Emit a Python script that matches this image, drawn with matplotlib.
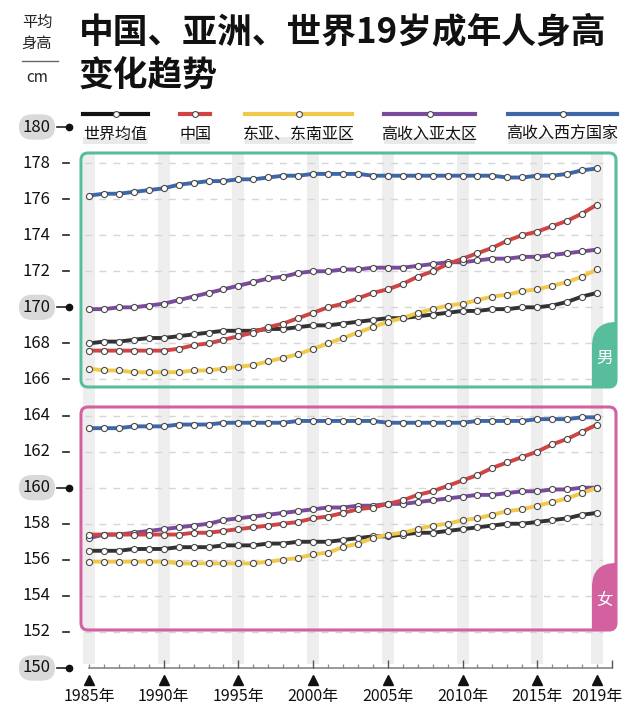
import matplotlib
matplotlib.use('Agg')
import matplotlib.pyplot as plt
from matplotlib.patches import FancyBboxPatch, PathPatch, Rectangle
from matplotlib.path import Path
from matplotlib.transforms import Affine2D, blended_transform_factory
from matplotlib.lines import Line2D

plt.rcParams['font.family'] = ['Noto Sans CJK SC', 'DejaVu Sans']

# ---------------- data ----------------
years = list(range(1985, 2020))
series_names = ['世界均值', '中国', '东亚、东南亚区', '高收入亚太区', '高收入西方国家']
series_colors = ['#333333', '#d04444', '#f0c84c', '#7a4b9c', '#3d67a9']

male_world = [168.0, 168.1, 168.1, 168.2, 168.3, 168.3, 168.4, 168.5, 168.6, 168.7, 168.7, 168.7,
              168.8, 168.8, 168.9, 169.0, 169.0, 169.1, 169.2, 169.3, 169.4, 169.4, 169.5, 169.6,
              169.7, 169.8, 169.8, 169.9, 169.9, 170.0, 170.0, 170.1, 170.3, 170.6, 170.8]
male_china = [167.6, 167.6, 167.6, 167.6, 167.6, 167.6, 167.7, 167.9, 168.0, 168.2, 168.4, 168.6,
              168.9, 169.1, 169.4, 169.7, 170.0, 170.2, 170.5, 170.8, 171.0, 171.3, 171.7, 172.0,
              172.4, 172.7, 173.0, 173.3, 173.7, 174.0, 174.2, 174.5, 174.8, 175.2, 175.7]
male_east_asia = [166.6, 166.5, 166.5, 166.4, 166.4, 166.4, 166.4, 166.5, 166.5, 166.6, 166.7, 166.8,
                  167.0, 167.2, 167.4, 167.7, 168.0, 168.3, 168.6, 168.9, 169.2, 169.4, 169.7, 169.9,
                  170.1, 170.2, 170.4, 170.6, 170.7, 170.9, 171.0, 171.2, 171.4, 171.7, 172.1]
male_hi_asia = [169.9, 169.9, 170.0, 170.0, 170.1, 170.2, 170.4, 170.6, 170.8, 171.0, 171.2, 171.4,
                171.6, 171.7, 171.9, 172.0, 172.0, 172.1, 172.1, 172.2, 172.2, 172.2, 172.3, 172.4,
                172.5, 172.5, 172.6, 172.7, 172.7, 172.8, 172.8, 172.9, 173.0, 173.1, 173.2]
male_hi_west = [176.2, 176.3, 176.3, 176.4, 176.5, 176.6, 176.8, 176.9, 177.0, 177.0, 177.1, 177.1,
                177.2, 177.3, 177.3, 177.4, 177.4, 177.4, 177.4, 177.3, 177.3, 177.3, 177.3, 177.3,
                177.3, 177.3, 177.3, 177.3, 177.2, 177.2, 177.3, 177.3, 177.4, 177.6, 177.7]

female_world = [156.5, 156.5, 156.5, 156.6, 156.6, 156.6, 156.7, 156.7, 156.7, 156.8, 156.8, 156.8,
                156.9, 156.9, 157.0, 157.0, 157.0, 157.1, 157.2, 157.3, 157.3, 157.4, 157.5, 157.5,
                157.6, 157.7, 157.8, 157.9, 158.0, 158.0, 158.1, 158.2, 158.3, 158.5, 158.6]
female_china = [157.4, 157.4, 157.4, 157.4, 157.4, 157.4, 157.4, 157.5, 157.5, 157.6, 157.7, 157.8,
                157.9, 158.0, 158.1, 158.3, 158.4, 158.6, 158.8, 158.9, 159.1, 159.3, 159.6, 159.8,
                160.1, 160.4, 160.7, 161.1, 161.4, 161.7, 162.0, 162.4, 162.7, 163.1, 163.5]
female_east_asia = [155.9, 155.9, 155.9, 155.9, 155.9, 155.9, 155.8, 155.8, 155.8, 155.8, 155.8, 155.8,
                    155.9, 156.0, 156.1, 156.3, 156.4, 156.7, 156.9, 157.2, 157.4, 157.5, 157.7, 157.9,
                    158.0, 158.2, 158.3, 158.5, 158.7, 158.8, 159.0, 159.2, 159.4, 159.7, 160.0]
female_hi_asia = [157.2, 157.4, 157.4, 157.5, 157.6, 157.7, 157.8, 157.9, 158.0, 158.2, 158.3, 158.4,
                  158.5, 158.6, 158.7, 158.8, 158.9, 158.9, 159.0, 159.0, 159.1, 159.1, 159.2, 159.3,
                  159.4, 159.5, 159.6, 159.6, 159.7, 159.8, 159.8, 159.9, 159.9, 160.0, 160.0]
female_hi_west = [163.3, 163.3, 163.3, 163.4, 163.4, 163.4, 163.5, 163.5, 163.5, 163.6, 163.6, 163.6,
                  163.6, 163.6, 163.7, 163.7, 163.7, 163.7, 163.7, 163.7, 163.6, 163.6, 163.6, 163.6,
                  163.6, 163.6, 163.7, 163.7, 163.7, 163.7, 163.8, 163.8, 163.8, 163.9, 163.9]

male_series = [male_world, male_china, male_east_asia, male_hi_asia, male_hi_west]
female_series = [female_world, female_china, female_east_asia, female_hi_asia, female_hi_west]

band_years = [1985, 1990, 1995, 2000, 2005, 2010, 2015, 2019]
xtick_labels = ['1985年', '1990年', '1995年', '2000年', '2005年', '2010年', '2015年', '2019年']
male_grid = [166, 168, 170, 172, 174, 176, 178]
female_grid = [152, 154, 156, 158, 160, 162, 164]
ytick_values = [180, 178, 176, 174, 172, 170, 168, 166, 164, 162, 160, 158, 156, 154, 152, 150]
boxed_values = [180, 170, 160, 150]

# ---------------- figure ----------------
W, H = 640, 716
fig = plt.figure(figsize=(W / 100, H / 100), dpi=100)
ax = fig.add_axes([0, 0, 1, 1])
ax.set_xlim(1979.043, 2021.878)
ax.set_ylim(147.338, 187.043)
ax.axis('off')

P = Affine2D().scale(1, -1).translate(0, H)          # pixel coords, origin top-left
XP = blended_transform_factory(P, ax.transData)       # x pixel, y data
DX = blended_transform_factory(ax.transData, P)       # x data, y pixel

GREEN = '#58bd9c'
PINK = '#d3609f'
BAND = '#eeeeee'

# gray vertical bands
ax.bar(band_years, 178.55 - 150.2, bottom=150.2, width=0.8, color=BAND, zorder=0)

# dashed grid lines
ax.hlines(male_grid, 1984.75, 2019.4, colors='#d6d6d6', linestyles=(0, (5, 5)), lw=1, zorder=1)
ax.hlines(female_grid, 1984.75, 2019.4, colors='#d6d6d6', linestyles=(0, (5, 5)), lw=1, zorder=1)


def tab(x0, x1, y0, y1, color, label):
    r = 24
    verts = [(x0, y1), (x0, y0 + r), (x0, y0), (x1, y0), (x1, y1 - 6), (x1, y1), (x1 - 6, y1), (x0, y1)]
    codes = [Path.MOVETO, Path.LINETO, Path.CURVE3, Path.CURVE3, Path.LINETO, Path.CURVE3, Path.CURVE3,
             Path.CLOSEPOLY]
    fig.add_artist(PathPatch(Path(verts, codes), transform=P, fc=color, ec='none', zorder=2))
    fig.text((x0 + x1) / 2 + 1, (y0 + y1) / 2 + 4, label, transform=P, color='white', fontsize=12,
             ha='center', va='center', zorder=6)


tab(592, 616, 322, 387, GREEN, '男')
tab(592, 616, 563, 630, PINK, '女')

fig.add_artist(FancyBboxPatch((81, 153), 535, 234, boxstyle='round,pad=0,rounding_size=7', transform=P,
                              fill=False, ec=GREEN, lw=2.2, zorder=3))
fig.add_artist(FancyBboxPatch((81, 407), 535, 223, boxstyle='round,pad=0,rounding_size=7', transform=P,
                              fill=False, ec=PINK, lw=2.2, zorder=3))

# data lines
order = [4, 3, 0, 2, 1]
for grp in (male_series, female_series):
    for i in order:
        ax.plot(years, grp[i], color=series_colors[i], lw=2.8, marker='o', ms=4.4, mfc='white',
                mec='#4a4a4a', mew=0.8, zorder=4 + order.index(i) * 0.1, solid_capstyle='round')

# legend
leg_x = [(83, 148), (180, 210), (245, 352), (384, 475), (508, 617)]
for (x0, x1), name, c in zip(leg_x, series_names, series_colors):
    lc = '#111111' if c == '#333333' else c
    fig.add_artist(Line2D([x0, x1], [114, 114], transform=P, color=lc, lw=3.0))
    fig.add_artist(Line2D([(x0 + x1) / 2], [114], transform=P, marker='o', ms=4.2, mfc='white',
                          mec='#4a4a4a', mew=0.8, ls='none'))
    fig.add_artist(Rectangle((x0, 137), x1 - x0, 7, transform=P, fc='#e9e9e9', ec='none', zorder=0.5))
    fig.text(x0 + (x1 - x0) / 2, 134, name, transform=P, fontsize=11.5, ha='center', va='center',
             color='#111111', zorder=2)

# y-axis labels
for v in ytick_values:
    if v in boxed_values:
        ax.text(37, v, str(v), transform=XP, fontsize=12, ha='center', va='center', color='#111111',
                bbox=dict(boxstyle='round,pad=0.25,rounding_size=0.8', fc='#d9d9d9', ec='none'))
        ax.plot([57, 69], [v, v], transform=XP, color='#222222', lw=1.2, clip_on=False)
        ax.plot([69], [v], transform=XP, marker='o', ms=4.5, color='#111111', clip_on=False)
    else:
        ax.text(50, v, str(v), transform=XP, fontsize=12, ha='right', va='center', color='#111111')
        ax.plot([63, 69], [v, v], transform=XP, color='#222222', lw=1.2, clip_on=False)

# x axis
ax.plot([1985, 2020], [150, 150], color='#888888', lw=1.2, zorder=3)
all_years = list(range(1985, 2021))
minor = [y for y in all_years if y % 5 != 0 or y == 1985]
major = [y for y in all_years if y % 5 == 0 and y != 1985]
ax.vlines(minor, 150, 150.2, colors='#888888', lw=0.9, zorder=3)
ax.vlines(major, 150, 150.42, colors='#555555', lw=1.0, zorder=3)
ax.plot(band_years, [680] * len(band_years), transform=DX, ls='none', marker='^', ms=6.5,
        color='#111111', clip_on=False)
for yr, lab in zip(band_years, xtick_labels):
    ax.text(yr, 696, lab, transform=DX, fontsize=11.5, ha='center', va='center', color='#111111')

# header
fig.text(37, 22, '平均', transform=P, fontsize=11, ha='center', va='center', color='#222222')
fig.text(37, 43, '身高', transform=P, fontsize=11, ha='center', va='center', color='#222222')
fig.add_artist(Line2D([22, 58], [61, 61], transform=P, color='#666666', lw=1.0))
fig.text(37, 77, 'cm', transform=P, fontsize=11, ha='center', va='center', color='#222222')

# title
fig.text(79, 32, '中国、亚洲、世界19岁成年人身高', transform=P, fontsize=25, fontweight='heavy',
         ha='left', va='center', color='#111111')
fig.text(79, 76, '变化趋势', transform=P, fontsize=25, fontweight='heavy', ha='left', va='center',
         color='#111111')

fig.savefig('out.png', dpi=100)
